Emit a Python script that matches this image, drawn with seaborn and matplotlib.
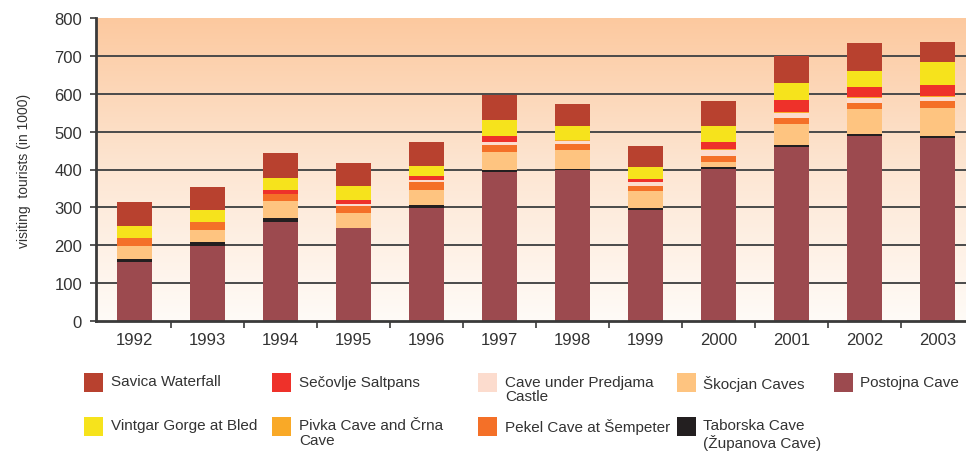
import numpy as np
import matplotlib.pyplot as plt
import matplotlib.patches as mpatches
from matplotlib.colors import LinearSegmentedColormap
import seaborn as sns

# visiting tourists (in 1000)
years = ["1992", "1993", "1994", "1995", "1996", "1997",
         "1998", "1999", "2000", "2001", "2002", "2003"]

postojna = [155, 198, 262, 245, 298, 393, 398, 293, 401, 460, 489, 483]
taborska = [8, 10, 10, 0, 8, 5, 3, 5, 5, 5, 5, 5]
skocjan = [35, 32, 44, 40, 39, 48, 50, 45, 14, 55, 66, 74]
pekel = [21, 21, 19, 18, 21, 19, 16, 13, 16, 16, 16, 19]
predjama = [0, 0, 0, 5, 6, 8, 8, 11, 16, 14, 13, 10]
pivka = [0, 0, 0, 0, 0, 0, 3, 0, 2, 2, 3, 3]
secovlje = [0, 0, 11, 11, 11, 16, 0, 8, 19, 32, 26, 29]
vintgar = [31, 31, 31, 37, 26, 42, 37, 31, 42, 45, 42, 61]
savica = [63, 61, 66, 61, 63, 66, 58, 56, 66, 71, 75, 53]

# stack from bottom to top
series = [
    ("Postojna Cave", postojna, "#9c4a4f"),
    ("Taborska Cave\n(Županova Cave)", taborska, "#231f20"),
    ("Škocjan Caves", skocjan, "#fec480"),
    ("Pekel Cave at Šempeter", pekel, "#f47028"),
    ("Cave under Predjama\nCastle", predjama, "#fcdcce"),
    ("Pivka Cave and Črna\nCave", pivka, "#f9a927"),
    ("Sečovlje Saltpans", secovlje, "#ee312a"),
    ("Vintgar Gorge at Bled", vintgar, "#f6e31c"),
    ("Savica Waterfall", savica, "#b8412f"),
]

# legend layout (rows as in the original)
legend_rows = [
    ["Savica Waterfall", "Sečovlje Saltpans", "Cave under Predjama\nCastle",
     "Škocjan Caves", "Postojna Cave"],
    ["Vintgar Gorge at Bled", "Pivka Cave and Črna\nCave", "Pekel Cave at Šempeter",
     "Taborska Cave\n(Županova Cave)"],
]

sns.set_style("ticks")
plt.rcParams['font.family'] = ['Liberation Sans', 'DejaVu Sans']
text_col = "#333333"

W, H = 966, 452
fig = plt.figure(figsize=(W / 100, H / 100), dpi=100)
ax = fig.add_axes([96 / W, 1 - 321.7 / H, 1 - 96 / W, (321.7 - 19.3) / H])

# background gradient
grad = LinearSegmentedColormap.from_list("bg", ["#fffbf7", "#fde6d3", "#fcc99f"])
ax.imshow(np.linspace(0, 1, 256).reshape(-1, 1), cmap=grad, origin="lower",
          extent=[0, 1, 0, 1], transform=ax.transAxes, aspect="auto", zorder=0)

ax.hlines(np.arange(100, 800, 100), -1, 12, color="#4a4a4a", lw=1.4, zorder=0.5)

bottom = np.zeros(len(years))
for name, vals, col in series:
    sns.barplot(x=years, y=vals, bottom=bottom, color=col, saturation=1,
                errorbar=None, width=0.48, ax=ax, zorder=2, linewidth=0)
    bottom = bottom + np.array(vals)

ax.set_xlim(-0.527, 11.39)
ax.set_ylim(0, 800)
ax.set_yticks(np.arange(0, 801, 100))
ax.set_xticks(np.arange(0.5, 11, 1), minor=True)

for s in ["top", "right"]:
    ax.spines[s].set_visible(False)
ax.spines["left"].set_color("#3a3a3a")
ax.spines["left"].set_linewidth(2)
ax.spines["bottom"].set_color("#3a3a3a")
ax.spines["bottom"].set_linewidth(2)

ax.tick_params(axis="x", which="major", length=0, pad=8, labelsize=12, labelcolor=text_col)
ax.tick_params(axis="x", which="minor", length=5, width=1.2, color="#3a3a3a")
ax.tick_params(axis="y", length=4, width=1.2, color="#3a3a3a", pad=6,
               labelsize=12, labelcolor=text_col)
ax.set_xlabel("")
ax.set_ylabel("visiting  tourists (in 1000)", fontsize=10, color=text_col, labelpad=17)

# legend
colors = {name: col for name, vals, col in series}
patch_x = [84, 272, 478, 677, 834]
text_x = [111, 299, 505, 703, 860]
row_top = [374, 418]
for r, row in enumerate(legend_rows):
    for c, name in enumerate(row):
        fig.add_artist(mpatches.Rectangle(
            (patch_x[c] / W, 1 - (row_top[r] + 19) / H), 19 / W, 19 / H,
            transform=fig.transFigure, facecolor=colors[name], edgecolor="none"))
        fig.text(text_x[c] / W, 1 - (row_top[r] + 1.5) / H, name, fontsize=11,
                 color=text_col, va="top", ha="left", linespacing=1.08)

plt.savefig("out.png", dpi=100)
